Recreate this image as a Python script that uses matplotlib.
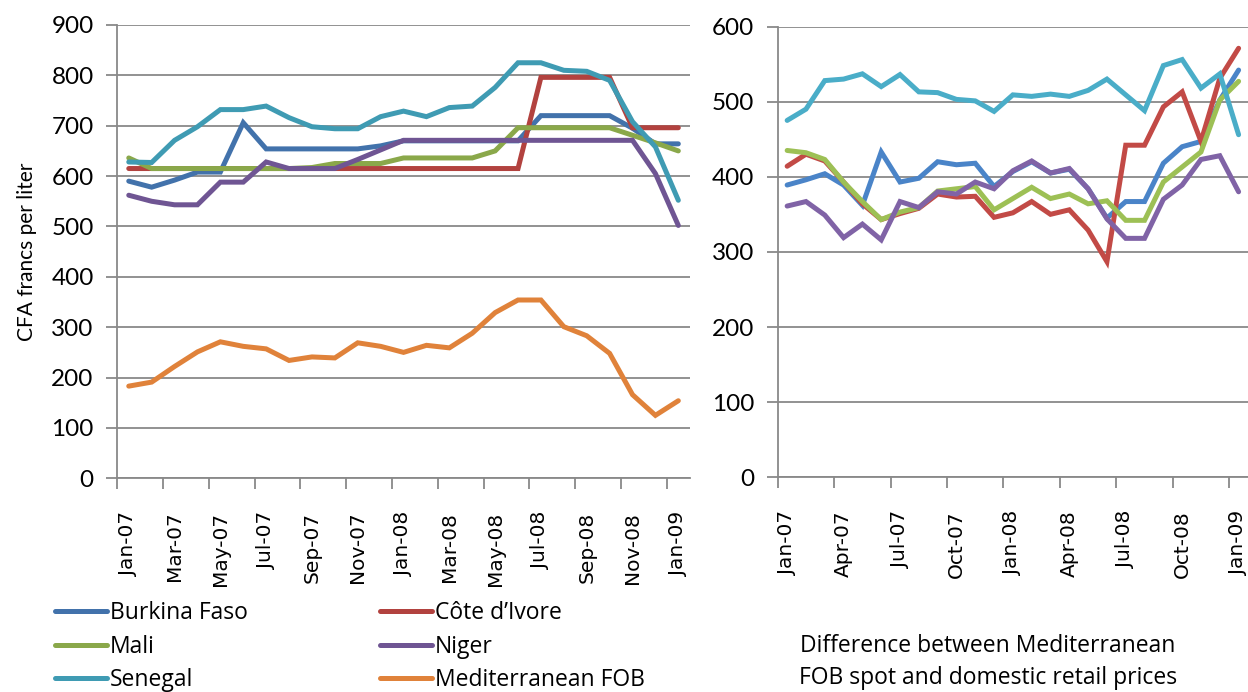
import matplotlib
matplotlib.use("Agg")
import matplotlib.pyplot as plt
import numpy as np

months = ["Jan-07", "Feb-07", "Mar-07", "Apr-07", "May-07", "Jun-07", "Jul-07", "Aug-07",
          "Sep-07", "Oct-07", "Nov-07", "Dec-07", "Jan-08", "Feb-08", "Mar-08", "Apr-08",
          "May-08", "Jun-08", "Jul-08", "Aug-08", "Sep-08", "Oct-08", "Nov-08", "Dec-08", "Jan-09"]

# Left panel: retail prices and Mediterranean FOB (CFA francs per liter)
burkina = [590, 578, 592, 608, 608, 706, 654, 654, 654, 654, 654, 660, 670, 670, 670, 670,
           670, 670, 720, 720, 720, 720, 695, 664, 664]
cote = [615, 615, 615, 615, 615, 615, 615, 615, 615, 615, 615, 615, 615, 615, 615, 615,
        615, 615, 796, 796, 796, 796, 696, 696, 696]
mali = [636, 615, 615, 615, 615, 615, 615, 615, 617, 625, 625, 625, 636, 636, 636, 636,
        650, 696, 696, 696, 696, 696, 681, 666, 650]
niger = [562, 550, 543, 543, 588, 588, 628, 615, 615, 615, 633, 652, 671, 671, 671, 671,
         671, 671, 671, 671, 671, 671, 671, 605, 502]
senegal = [628, 627, 671, 698, 732, 732, 739, 716, 698, 694, 694, 718, 729, 718, 736, 739,
           776, 825, 825, 810, 808, 790, 708, 658, 552]
med_fob = [183, 191, 222, 251, 271, 262, 257, 234, 241, 239, 269, 262, 250, 264, 259, 288,
           329, 354, 354, 301, 283, 248, 166, 125, 154]

# Right panel: difference between Mediterranean FOB spot and domestic retail prices
d_burkina = [389, 396, 404, 389, 362, 433, 393, 398, 420, 416, 418, 387, 407, 420, 405, 410,
             384, 345, 367, 367, 418, 440, 447, 502, 542]
d_cote = [414, 430, 421, 393, 364, 343, 351, 358, 377, 373, 374, 346, 352, 367, 350, 356,
          329, 287, 442, 442, 493, 513, 447, 531, 571]
d_mali = [435, 432, 423, 393, 367, 343, 353, 359, 381, 384, 387, 356, 371, 386, 371, 377,
          364, 368, 342, 342, 393, 413, 433, 502, 527]
d_niger = [361, 367, 349, 319, 337, 316, 367, 359, 380, 377, 393, 384, 408, 421, 405, 411,
           384, 344, 318, 318, 370, 389, 423, 428, 380]
d_senegal = [475, 490, 528, 530, 537, 520, 536, 513, 512, 503, 501, 487, 509, 507, 510, 507,
             515, 530, 509, 488, 548, 556, 518, 537, 456]

series_names = ["Burkina Faso", "Côte d\u2019Ivore", "Mali", "Niger", "Senegal", "Mediterranean FOB"]

left_colors = ["#4272ab", "#b2423f", "#8aa84a", "#6f5593", "#3f9bb3", "#e0823a"]
right_colors = ["#4a84c8", "#c24a46", "#9dc055", "#8063a6", "#4aadc8"]

grey = "#898989"
LW = 3.6

fig = plt.figure(figsize=(12.48, 6.92), dpi=100)
axL = fig.add_axes([0.0940, 0.3088, 0.4587, 0.6551])
axR = fig.add_axes([0.6232, 0.3103, 0.3768, 0.6514])

x = np.arange(len(months))

left_series = [burkina, cote, mali, niger, senegal, med_fob]
handles = []
for vals, name, c in zip(left_series, series_names, left_colors):
    h, = axL.plot(x, vals, color=c, lw=LW, solid_joinstyle="miter", solid_capstyle="round", label=name)
    handles.append(h)

right_series = [d_burkina, d_cote, d_mali, d_niger, d_senegal]
for vals, c in zip(right_series, right_colors):
    axR.plot(x, vals, color=c, lw=LW, solid_joinstyle="miter", solid_capstyle="round", clip_on=False)

ytick_font = dict(family=["Lato", "DejaVu Sans"], size=17.5)
xtick_font = dict(family=["DejaVu Sans"], size=14.5)

def style(ax, ymax, step, labelstep):
    ax.set_xlim(-0.5, len(months) - 0.5)
    ax.set_ylim(0, ymax)
    ax.set_yticks(np.arange(0, ymax + 1, 100))
    ax.set_yticklabels([str(v) for v in range(0, ymax + 1, 100)], **ytick_font)
    ax.yaxis.grid(True, color=grey, lw=1.3)
    ax.set_axisbelow(True)
    for s in ["top", "right"]:
        ax.spines[s].set_visible(False)
    for s in ["left", "bottom"]:
        ax.spines[s].set_color(grey)
        ax.spines[s].set_linewidth(1.3)
    ax.tick_params(axis="y", length=8, width=1.3, color=grey, pad=9)
    # labels at category centres, tick marks at category boundaries
    ax.set_xticks(x[::labelstep])
    ax.set_xticklabels(months[::labelstep], rotation=90, **xtick_font)
    ax.set_xticks(np.arange(-0.5, len(months) - 1, step), minor=True)
    ax.tick_params(axis="x", which="major", length=0, pad=24)
    ax.tick_params(axis="x", which="minor", length=8, width=1.3, color=grey)

style(axL, 900, 2, 2)
style(axR, 600, 3, 3)

axL.set_ylabel("CFA francs per liter", family=["Lato", "DejaVu Sans"], size=15, labelpad=10)

leg_font = dict(family=["Open Sans", "DejaVu Sans"], size=16.5)
order = [0, 2, 4, 1, 3, 5]
col1 = [handles[i] for i in order[:3]]
col2 = [handles[i] for i in order[3:]]
for hs, xa in [(col1, 0.044), (col2, 0.3045)]:
    fig.legend(handles=hs, labels=[h.get_label() for h in hs], loc="upper left",
               bbox_to_anchor=(xa, 0.1315), frameon=False, borderpad=0, borderaxespad=0,
               handlelength=2.27, handletextpad=0.12, labelspacing=0.42, prop=leg_font)

fig.text(0.7915, 1 - 646 / 692, "Difference between Mediterranean", ha="center", va="center", **leg_font)
fig.text(0.7915, 1 - 678 / 692, "FOB spot and domestic retail prices", ha="center", va="center", **leg_font)

fig.savefig("out.png", dpi=100)
